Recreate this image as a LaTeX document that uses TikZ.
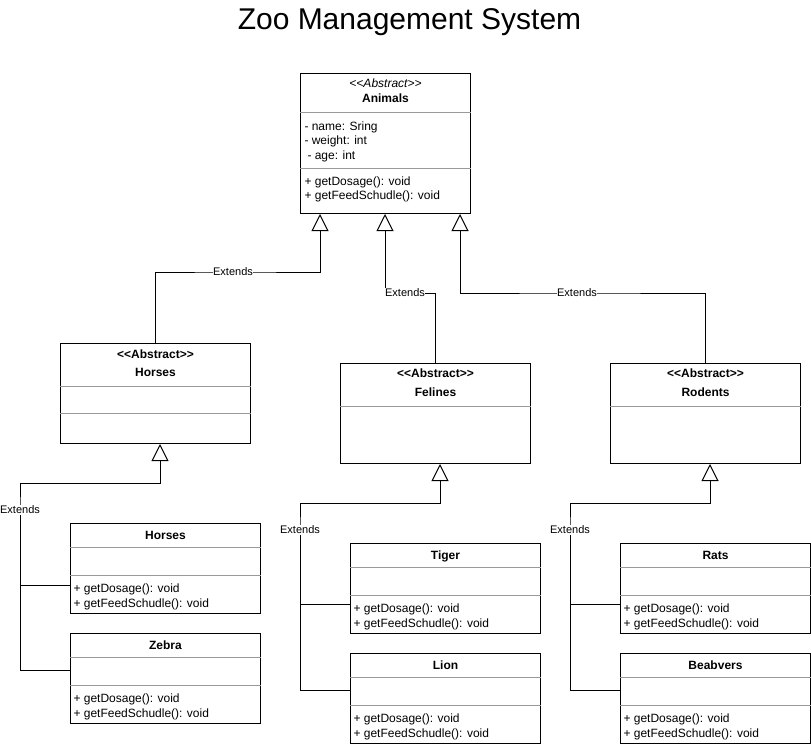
\documentclass[tikz,border=0pt]{standalone}
\usepackage{fontspec}
\setmainfont{Liberation Sans}
\usetikzlibrary{arrows.meta,calc}
\newcommand\LLt{<\kern0pt<}
\newcommand\GGt{>\kern0pt>}
\newcommand\ConcreteClass[4]{%
  \node[cls] (#1) at (#2,#3) {};
  \draw[sep] ($(#1.north west)+(0,24)$) -- ($(#1.north east)+(0,24)$);
  \draw[sep] ($(#1.north west)+(0,52)$) -- ($(#1.north east)+(0,52)$);
  \node[hdr] (#1-t) at ($(#1.north)+(0,12)$) {#4};
  \node[mem] (#1-m1) at ($(#1.north west)+(3,65)$) {+ getDosage(): void};
  \node[mem] (#1-m2) at ($(#1.north west)+(3,80)$) {+ getFeedSchudle(): void};
}
\begin{document}
\begin{tikzpicture}[x=1pt,y=-1pt,line width=1pt,
  cls/.style={draw=black, line width=1pt, fill=white, inner sep=0pt,
    minimum width=190pt, minimum height=90pt, anchor=north west},
  sep/.style={draw=black!40, line width=1pt},
  txt/.style={inner sep=0pt, font=\fontsize{12}{14}\selectfont, text height=8.6pt, text depth=0pt},
  hdr/.style={txt, font=\fontsize{12}{14}\selectfont\bfseries},
  mem/.style={txt, anchor=west},
  lbl/.style={fill=white, inner sep=0.6pt, font=\fontsize{11}{13}\selectfont, text height=7.9pt, text depth=0pt},
  inh/.style={draw, -{Triangle[open, length=17pt, width=17pt]}},
  conn/.style={draw}]
\useasboundingbox (0,0) rectangle (811,744);

% title
\node[font=\fontsize{30}{36}\selectfont, inner sep=0pt, anchor=base] (title) at (409.5,29) {Zoo Management System};

% Animals
\node[cls, minimum width=170pt, minimum height=140pt] (animals) at (300,73) {};
\draw[sep] ($(animals.north west)+(0,39)$) -- ($(animals.north east)+(0,39)$);
\draw[sep] ($(animals.north west)+(0,95)$) -- ($(animals.north east)+(0,95)$);
\node[txt, font=\fontsize{12}{14}\selectfont\itshape] (animals-s) at ($(animals.north)+(0,10)$) {\LLt Abstract\GGt};
\node[hdr] (animals-t) at ($(animals.north)+(0,25)$) {Animals};
\node[mem] (animals-a1) at ($(animals.north west)+(4,53.5)$) {- name: Sring};
\node[mem] (animals-a2) at ($(animals.north west)+(4,67.5)$) {- weight: int};
\node[mem] (animals-a3) at ($(animals.north west)+(7,82)$) {- age: int};
\node[mem] (animals-m1) at ($(animals.north west)+(4,108.5)$) {+ getDosage(): void};
\node[mem] (animals-m2) at ($(animals.north west)+(4,122.5)$) {+ getFeedSchudle(): void};

% Abstract Horses
\node[cls, minimum height=100pt] (habs) at (60,343) {};
\draw[sep] ($(habs.north west)+(0,43)$) -- ($(habs.north east)+(0,43)$);
\draw[sep] ($(habs.north west)+(0,70)$) -- ($(habs.north east)+(0,70)$);
\node[hdr] (habs-s) at ($(habs.north)+(0,11)$) {\LLt Abstract\GGt};
\node[hdr] (habs-t) at ($(habs.north)+(0,29)$) {Horses};

% Felines
\node[cls, minimum height=100pt] (fel) at (340,363) {};
\draw[sep] ($(fel.north west)+(0,43)$) -- ($(fel.north east)+(0,43)$);
\node[hdr] (fel-s) at ($(fel.north)+(0,10)$) {\LLt Abstract\GGt};
\node[hdr] (fel-t) at ($(fel.north)+(0,29)$) {Felines};

% Rodents
\node[cls, minimum height=100pt] (rod) at (610,363) {};
\draw[sep] ($(rod.north west)+(0,43)$) -- ($(rod.north east)+(0,43)$);
\node[hdr] (rod-s) at ($(rod.north)+(0,10)$) {\LLt Abstract\GGt};
\node[hdr] (rod-t) at ($(rod.north)+(0,29)$) {Rodents};

% concrete classes
\ConcreteClass{hcon}{70}{523}{Horses}
\ConcreteClass{zeb}{70}{633}{Zebra}
\ConcreteClass{tiger}{350}{543}{Tiger}
\ConcreteClass{lion}{350}{653}{Lion}
\ConcreteClass{rats}{620}{543}{Rats}
\ConcreteClass{beav}{620}{653}{Beabvers}

% connector bend points
\coordinate (e1) at (233,272);
\coordinate (e2) at (405,293);
\coordinate (e3) at (577,293);
\coordinate (e4) at (20,510);
\coordinate (j4) at (160,483);
\coordinate (e5) at (300,530);
\coordinate (j5) at (440,503);
\coordinate (e6) at (570,530);
\coordinate (j6) at (710,503);

% top-level inheritance
\draw[inh] (habs.north) |- (e1) -| ($(animals.south west)+(20,0)$);
\draw[inh] (fel.north) |- (e2) -| ($(animals.south west)+(85,0)$);
\draw[inh] (rod.north) |- (e3) -| ($(animals.south west)+(160,0)$);

% horses group
\draw[inh] ($(hcon.south west)+(0,-29)$) -| (e4) |- (j4) -- ($(habs.south west)+(100,0)$);
\draw[conn] ($(zeb.south west)+(0,-54)$) -| (e4);
% felines group
\draw[inh] ($(tiger.south west)+(0,-30)$) -| (e5) |- (j5) -- ($(fel.south west)+(100,0)$);
\draw[conn] ($(lion.south west)+(0,-54)$) -| (e5);
% rodents group
\draw[inh] ($(rats.south west)+(0,-30)$) -| (e6) |- (j6) -- ($(rod.south west)+(100,0)$);
\draw[conn] ($(beav.south west)+(0,-54)$) -| (e6);

% labels
\node[lbl] (l1) at (e1) {Extends};
\node[lbl] (l2) at (e2) {Extends};
\node[lbl] (l3) at (e3) {Extends};
\node[lbl] (l4) at (e4) {Extends};
\node[lbl] (l5) at (e5) {Extends};
\node[lbl] (l6) at (e6) {Extends};
\end{tikzpicture}
\end{document}
